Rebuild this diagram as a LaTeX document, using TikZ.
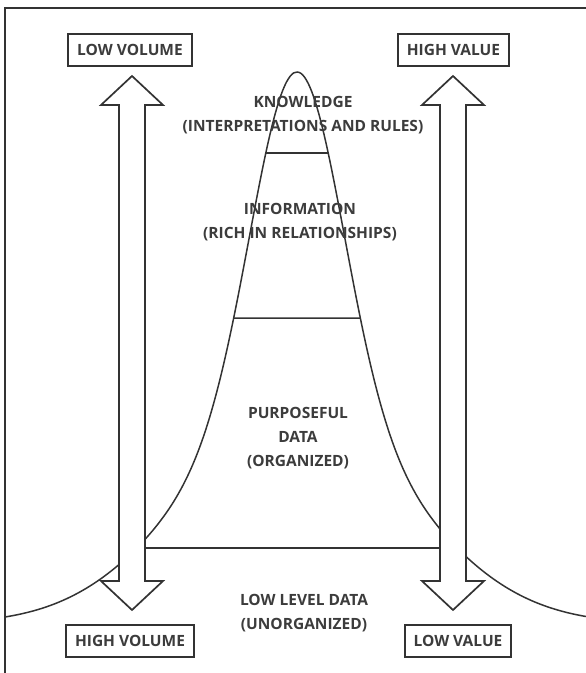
\documentclass[tikz,border=0pt]{standalone}
\usepackage{fontspec}
\setmainfont{Open Sans}
\usepackage{tikz}
\usetikzlibrary{calc,intersections}
\definecolor{ink}{HTML}{333333}
\definecolor{txt}{HTML}{3C3C3C}

\begin{document}
\begin{tikzpicture}[x=1pt, y=-1pt, line join=miter, color=ink,
    label box/.style={draw=ink, line width=2pt, fill=white, inner xsep=9pt, inner ysep=10pt,
        text height=11.5pt, text depth=0pt, text=txt, font=\fontsize{15.5}{24}\selectfont\bfseries},
    level text/.style={align=center, text=txt, font=\fontsize{15.5}{24}\selectfont\bfseries}]

\useasboundingbox (0,0) rectangle (586,673);

\draw[line width=2.5pt] (5,673) -- (5,8) -- (586,8);

\draw[line width=1.5pt, name path=bell] plot[domain=5:586, samples=160, smooth]
  (\x, {624 - 552*(0.62*exp(-((\x-297)/100)^2/0.405) + 0.38*exp(-((\x-297)/100)^2/2.5088))});

\path[name path=cutA] (5,153) -- (586,153);
\path[name path=cutB] (5,318) -- (586,318);
\path[name intersections={of=bell and cutA, by={kl,kr}}];
\path[name intersections={of=bell and cutB, by={il,ir}}];
\draw[line width=1.5pt] (kl) -- (kr);
\draw[line width=1.5pt] (il) -- (ir);
\draw[line width=1.5pt] (140,548) -- (445,548);

\foreach \cx in {132,453}
  \draw[line width=1.7pt, fill=white] (\cx,76) -- ++(31,29) -- ++(-18,0) -- ++(0,476) -- ++(18,0)
    -- (\cx,610) -- ++(-31,-29) -- ++(18,0) -- ++(0,-476) -- ++(-18,0) -- cycle;

\node[label box] (lowvol) at (130,50) {LOW VOLUME};
\node[label box] (highval) at (453.5,50) {HIGH VALUE};
\node[label box] (highvol) at (130,641) {HIGH VOLUME};
\node[label box] (lowval) at (458,641) {LOW VALUE};

\node[level text] (knowledge) at (303,115) {KNOWLEDGE\\(INTERPRETATIONS AND RULES)};
\node[level text] (information) at (300,222) {INFORMATION\\(RICH IN RELATIONSHIPS)};
\node[level text] (purposeful) at (298,438) {PURPOSEFUL\\DATA\\(ORGANIZED)};
\node[level text] (lowlevel) at (304,613) {LOW LEVEL DATA\\(UNORGANIZED)};

\end{tikzpicture}
\end{document}
